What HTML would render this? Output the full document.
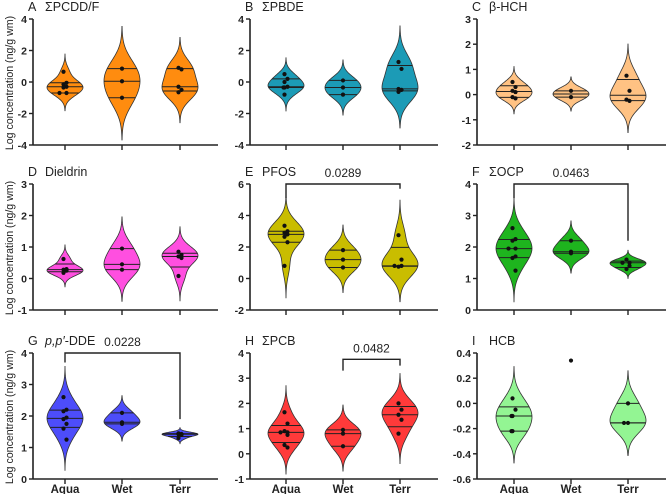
<!DOCTYPE html>
<html><head><meta charset="utf-8"><style>
html,body{margin:0;padding:0;background:#fff;}
svg{display:block;font-family:"Liberation Sans",sans-serif;}
</style></head><body>
<svg id="chart" width="668" height="494" viewBox="0 0 668 494"></svg>
<script>
const categories=["Aqua","Wet","Terr"];
const panelLetters=["A","B","C","D","E","F","G","H","I"];
const panelNames=["ΣPCDD/F","ΣPBDE","β-HCH","Dieldrin","PFOS","ΣOCP","p,p′-DDE","ΣPCB","HCB"];
const panelColors=["#ff8c0f","#1c9bb6","#ffc283","#ff4fe0","#c9bd00","#1eb41e","#4d4dfa","#ff3a3a","#93f593"];
const yMins=[-4,-4,-2,-1,-2,0,0,-1,-0.6];
const yMaxs=[4,4,3,3,6,4,4,4,0.4];
const tickLabelsA=["-4","-2","0","2","4"];
const tickLabelsB=["-4","-2","0","2","4"];
const tickLabelsC=["-2","-1","0","1","2","3"];
const tickLabelsD=["-1","0","1","2","3"];
const tickLabelsE=["-2","0","2","4","6"];
const tickLabelsF=["0","1","2","3","4"];
const tickLabelsG=["0","1","2","3","4"];
const tickLabelsH=["-1","0","1","2","3","4"];
const tickLabelsI=["-0.6","-0.4","-0.2","0.0","0.2","0.4"];
const valsA=[[0.65,-0.05,-0.15,-0.3,-0.35,-0.7,-0.7],[0.85,0.05,-1.0],[0.9,0.8,-0.3,-0.5,-0.65]];
const valsB=[[0.5,0.2,0.0,-0.3,-0.35,-0.35,-0.8],[0.1,-0.35,-0.8],[1.27,0.83,-0.44,-0.5,-0.63]];
const valsC=[[0.5,0.3,0.15,0.1,-0.1,-0.15],[0.15,-0.1],[0.75,0.15,-0.2,-0.25]];
const valsD=[[0.62,0.3,0.28,0.25,0.18],[0.95,0.45,0.28],[0.85,0.75,0.7,0.65,0.08]];
const valsE=[[3.35,3.0,2.9,2.8,2.65,2.3,0.8],[1.8,1.2,0.7],[2.75,1.2,0.75,0.8,0.8]];
const valsF=[[2.6,2.25,2.2,1.95,1.95,1.7,1.65,1.25],[2.2,1.85,1.8],[1.6,1.5,1.5,1.4,1.3]];
const valsG=[[2.6,2.2,2.15,1.95,1.9,1.75,1.6,1.25],[2.1,1.8,1.75],[1.45,1.43,1.42,1.4,1.3]];
const valsH=[[1.65,1.2,0.9,0.85,0.85,0.75,0.35,0.25],[0.95,0.8,0.3],[2.0,1.75,1.55,1.35,0.8]];
const valsI=[[0.04,-0.05,-0.1,-0.1,-0.22,-0.22],[0.34],[0.0,-0.155,-0.155]];
const sigE=[0,2,"0.0289",6,5.1,5.7];
const sigF=[0,2,"0.0463",4,3.55,2.2];
const sigG=[0,2,"0.0228",4,3.7,1.9];
const sigH=[1,2,"0.0482",3.75,3.3,3.5];
const allVals=[valsA,valsB,valsC,valsD,valsE,valsF,valsG,valsH,valsI];
const allTicks=[tickLabelsA,tickLabelsB,tickLabelsC,tickLabelsD,tickLabelsE,tickLabelsF,tickLabelsG,tickLabelsH,tickLabelsI];
const allSig=[null,null,null,null,sigE,sigF,sigG,sigH,null];

const NS="http://www.w3.org/2000/svg";
const svg=document.getElementById('chart');
const colAxisX=[33,250,477], colEndX=[218,438,666];
const colCatOff=[[32,89,147],[36,93,150],[37,94,151]];
const rowTop=[19,184,353], rowBot=[145,310,479];
function mk(tag,attrs,parent){const e=document.createElementNS(NS,tag);for(const k in attrs)e.setAttribute(k,attrs[k]);(parent||svg).appendChild(e);return e;}
function quant(s,p){const n=s.length;let pos=(n+1)*p-1;if(pos<0)pos=0;if(pos>n-1)pos=n-1;const lo=Math.floor(pos),hi=Math.ceil(pos);return s[lo]+(s[hi]-s[lo])*(pos-lo);}

for(let r=0;r<3;r++){
  const cy=(rowTop[r]+rowBot[r])/2+1;
  const yl=mk('text',{x:10,y:cy,'font-size':'10.6','text-anchor':'middle','dominant-baseline':'middle',fill:'#222',transform:`rotate(-90 10 ${cy})`});
  
  
  yl.textContent='Log concentration (ng/g wm)';
}

for(let p=0;p<9;p++){
  const r=Math.floor(p/3),c=p%3;
  const ax=colAxisX[c],ex=colEndX[c],top=rowTop[r],bot=rowBot[r];
  const ymin=yMins[p],ymax=yMaxs[p];
  const yS=v=>bot-(v-ymin)/(ymax-ymin)*(bot-top);
  const xS=i=>ax+colCatOff[c][i];
  const g=mk('g',{});
  
  
  const t1=mk('text',{x:ax-5,y:top-8,'font-size':'12.5',fill:'#222'},g);
  
  
  t1.textContent=panelLetters[p];
  const t2=mk('text',{x:ax+12,y:top-8,'font-size':'12.5',fill:'#222','font-style':p===6?'italic':'normal'},g);
  
  
  if(p===6){t2.innerHTML='p,p′<tspan font-style="normal">-DDE</tspan>';}else t2.textContent=panelNames[p];
  const vals=allVals[p];
  for(let i=0;i<3;i++){
    const d=vals[i].slice().sort((a,b)=>a-b);const n=d.length;const cx=xS(i);
    if(n>=2){
      const mean=d.reduce((a,b)=>a+b,0)/n;
      const sd=Math.sqrt(d.reduce((a,b)=>a+(b-mean)*(b-mean),0)/(n-1));
      const h=Math.max(1.2*sd*Math.pow(n,-0.2),(ymax-ymin)*0.015);
      const lo=d[0]-3*h,hi=d[n-1]+3*h;
      const dens=v=>d.reduce((a,x)=>a+Math.exp(-0.5*((v-x)/h)**2),0);
      const N=80;let pts=[],mx=0;
      for(let k=0;k<=N;k++){const v=lo+(hi-lo)*k/N;const dv=dens(v);pts.push([v,dv]);if(dv>mx)mx=dv;}
      const hw=18;
      const w=v=>dens(v)/mx*hw;
      let path='M'+cx+' '+yS(lo);
      pts.forEach(q=>{path+=' L'+(cx+q[1]/mx*hw).toFixed(2)+' '+yS(q[0]).toFixed(2);});
      for(let k=pts.length-1;k>=0;k--){path+=' L'+(cx-pts[k][1]/mx*hw).toFixed(2)+' '+yS(pts[k][0]).toFixed(2);}
      path+='Z';
      const vp=mk('path',{d:path,fill:panelColors[p],stroke:'#333','stroke-width':'0.8'},g);
      
      
      [0.25,0.5,0.75].forEach(q=>{const qv=quant(d,q);const ww=w(qv);
        const ql=mk('line',{x1:cx-ww,x2:cx+ww,y1:yS(qv),y2:yS(qv),stroke:'#222','stroke-width':'1'},g);
        
        });
    }
    const seen={};
    vals[i].forEach((v,k)=>{const key=v.toFixed(2);seen[key]=(seen[key]||0)+1;
      const m=seen[key];const off=m===1?0:(m%2===0?-4*Math.ceil((m-1)/2):4*Math.ceil((m-1)/2));
      const dot=mk('circle',{cx:cx+off+((k%2)?1.5:-1.5)*(n>3?1:0),cy:yS(v),r:2.1,fill:'#111'},g);
      
      });
  }
  const ya=mk('line',{x1:ax,x2:ax,y1:top,y2:bot,stroke:'#222','stroke-width':'1.6'},g);
  
  
  const xa=mk('line',{x1:ax,x2:ex,y1:bot,y2:bot,stroke:'#222','stroke-width':'1.6'},g);
  
  
  const tl=allTicks[p];
  tl.forEach(lbl=>{const v=parseFloat(lbl);const y=yS(v);
    mk('line',{x1:ax-4,x2:ax,y1:y,y2:y,stroke:'#222','stroke-width':'1.4'},g);
    const tt=mk('text',{x:ax-6,y:y+4,'font-size':'10.5','font-weight':'bold','text-anchor':'end',fill:'#222'},g);
    
    
    tt.textContent=lbl;});
  for(let i=0;i<3;i++){mk('line',{x1:xS(i),x2:xS(i),y1:bot,y2:bot+5,stroke:'#222','stroke-width':'1.4'},g);
    if(r===2){const ct=mk('text',{x:xS(i),y:bot+14,'font-size':'11.5','font-weight':'bold','text-anchor':'middle',fill:'#222'},g);
      
      
      ct.textContent=categories[i];}}
  const s=allSig[p];
  if(s){const x1=xS(s[0]),x2=xS(s[1]),yt=yS(s[3]);
    const br=mk('path',{d:`M${x1} ${yS(s[4])} L${x1} ${yt} L${x2} ${yt} L${x2} ${yS(s[5])}`,fill:'none',stroke:'#222','stroke-width':'1.4'},g);
    
    
    const st=mk('text',{x:(x1+x2)/2,y:yt-7,'font-size':'12','text-anchor':'middle',fill:'#222'},g);
    
    
    st.textContent=s[2];}
}
</script>
</body></html>
